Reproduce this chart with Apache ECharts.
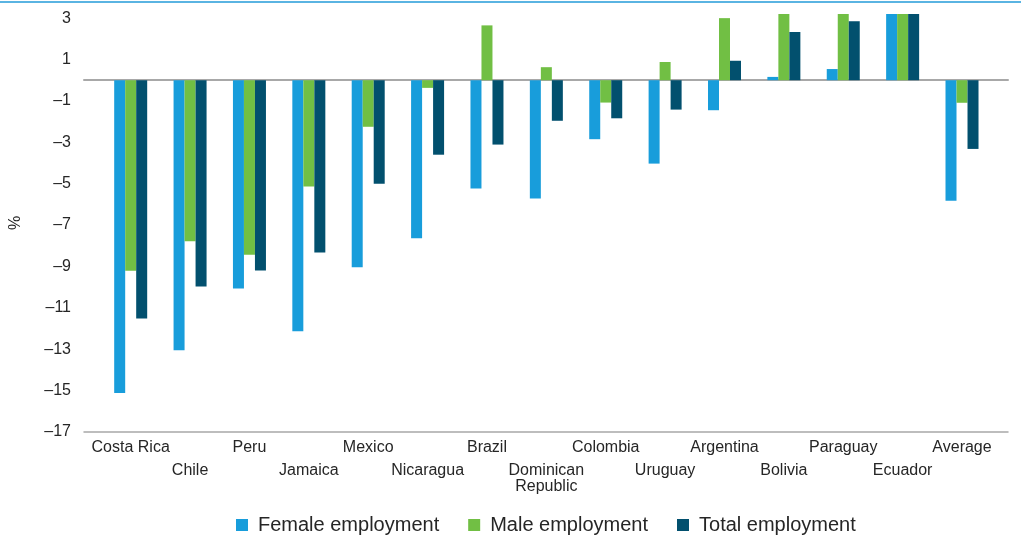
<!DOCTYPE html>
<html>
<head>
<meta charset="utf-8">
<style>
  html, body { margin: 0; padding: 0; background: #ffffff; }
  #chart { width: 1021px; height: 539px; }
</style>
<script src="https://cdn.jsdelivr.net/npm/echarts@6/dist/echarts.min.js"></script>
</head>
<body>
<div id="chart"></div>
<script>
// Change in employment by sex, per country (%)
const countries = ['Costa Rica', 'Chile', 'Peru', 'Jamaica', 'Mexico', 'Nicaragua', 'Brazil',
  'Dominican Republic', 'Colombia', 'Uruguay', 'Argentina', 'Bolivia', 'Paraguay', 'Ecuador', 'Average'];
const femaleEmployment = [-15.12, -13.05, -10.06, -12.13, -9.04, -7.64, -5.23, -5.71, -2.85, -4.03, -1.45, 0.16, 0.54, 3.3, -5.83];
const maleEmployment   = [-9.21, -7.78, -8.43, -5.14, -2.25, -0.37, 2.65, 0.63, -1.08, 0.88, 3.0, 3.3, 3.3, 3.3, -1.09];
const totalEmployment  = [-11.51, -9.97, -9.2, -8.33, -5.0, -3.6, -3.11, -1.96, -1.84, -1.42, 0.94, 2.33, 2.85, 3.3, -3.32];
const seriesNames = ['Female employment', 'Male employment', 'Total employment'];
const yMin = -17, yMax = 3.2, yStep = 2;

const colors = ['#189ddb', '#71bf44', '#02506e'];
const textColor = '#262626';
const lineColor = '#a8a8a8';
const font = 'Liberation Sans, Arial, sans-serif';

const chart = echarts.init(document.getElementById('chart'), null, { renderer: 'canvas' });

function dash(v) { return String(v).replace('-', '\u2013'); }

function barSeries(name, data, i) {
  return {
    name: name, type: 'bar', data: data,
    xAxisIndex: 0, yAxisIndex: 0,
    barWidth: 11, barGap: '0%', clip: true,
    itemStyle: { color: colors[i] },
    emphasis: { disabled: true }
  };
}

chart.setOption({
  animation: false,
  color: colors,
  textStyle: { fontFamily: font },
  graphic: [{
    type: 'rect', left: 0, top: 1,
    shape: { width: 1021, height: 2 },
    style: { fill: '#5ab4e2' }, silent: true
  }],
  grid: [
    { left: 100.3, right: 29.3, top: 14, bottom: 107 },
    { left: 84, right: 13, top: 14, bottom: 107 }
  ],
  legend: {
    data: seriesNames,
    left: 236, top: 515, padding: 0,
    itemWidth: 12, itemHeight: 12, itemGap: 29,
    icon: 'rect',
    selectedMode: false,
    textStyle: { fontSize: 20, color: textColor, fontFamily: font, padding: [0, 0, 0, 5] }
  },
  xAxis: [
    {
      type: 'category', data: countries, gridIndex: 0,
      axisLine: { show: false, onZero: false }, axisTick: { show: false },
      axisLabel: {
        interval: 0, margin: 8, color: textColor, fontFamily: font,
        formatter: function (v, idx) {
          const parts = v === 'Dominican Republic' ? ['Dominican', 'Republic'] : [v];
          const lines = parts.map(function (p) { return '{t|' + p + '}'; });
          if (idx % 2 === 1) lines.unshift('{gap| }');
          return lines.join('\n');
        },
        rich: {
          t: { fontSize: 16, lineHeight: 16, color: textColor, fontFamily: font },
          gap: { fontSize: 10, lineHeight: 23 }
        }
      }
    },
    {
      // zero baseline across the plot
      type: 'value', gridIndex: 1, min: 0, max: 1, position: 'bottom',
      axisLine: { show: true, onZero: true, lineStyle: { color: lineColor, width: 2 } },
      axisTick: { show: false }, axisLabel: { show: false }, splitLine: { show: false }
    },
    {
      // bottom axis line
      type: 'value', gridIndex: 1, min: 0, max: 1, position: 'bottom',
      axisLine: { show: true, onZero: false, lineStyle: { color: lineColor, width: 1.5 } },
      axisTick: { show: false }, axisLabel: { show: false }, splitLine: { show: false }
    }
  ],
  yAxis: [
    {
      type: 'value', gridIndex: 0, min: yMin, max: yMax, interval: yStep,
      name: '%', nameLocation: 'middle', nameGap: 77, nameRotate: 90,
      nameTextStyle: { fontSize: 16, color: textColor, fontFamily: font },
      axisLine: { show: false }, axisTick: { show: false }, splitLine: { show: false },
      axisLabel: {
        margin: 30, fontSize: 16, color: textColor, fontFamily: font,
        showMaxLabel: false, padding: [9, 0, 0, 0],
        formatter: dash
      }
    },
    {
      type: 'value', gridIndex: 1, min: yMin, max: yMax, interval: yStep,
      axisLine: { show: false }, axisTick: { show: false }, splitLine: { show: false },
      axisLabel: { show: false }
    }
  ],
  series: [
    barSeries(seriesNames[0], femaleEmployment, 0),
    barSeries(seriesNames[1], maleEmployment, 1),
    barSeries(seriesNames[2], totalEmployment, 2)
  ]
});
</script>
</body>
</html>
